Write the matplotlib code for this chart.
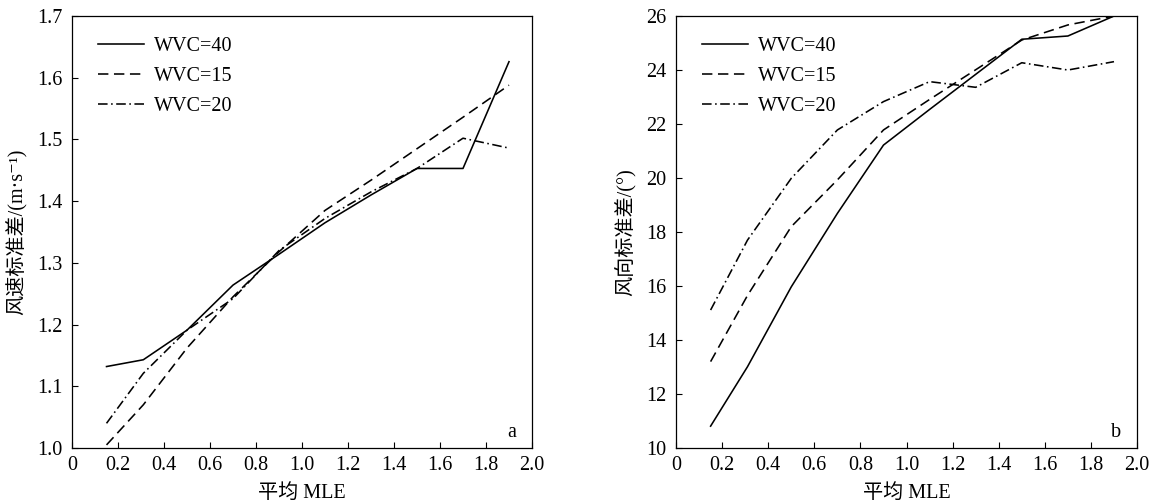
import matplotlib
matplotlib.use("Agg")
import matplotlib.pyplot as plt

plt.rcParams["font.family"] = ["Liberation Serif", "Noto Sans CJK SC", "DejaVu Serif"]
plt.rcParams["font.size"] = 14.5
plt.rcParams["axes.linewidth"] = 0.9

# mean MLE values shared by both panels
mle = [0.15, 0.31, 0.5, 0.7, 0.9, 1.1, 1.3, 1.5, 1.7, 1.9]

# wind speed standard deviation (m/s)
speed_wvc40 = [1.132, 1.143, 1.191, 1.264, 1.314, 1.365, 1.410, 1.453, 1.453, 1.626]
speed_wvc15 = [1.005, 1.070, 1.162, 1.245, 1.318, 1.385, 1.434, 1.485, 1.536, 1.588]
speed_wvc20 = [1.040, 1.121, 1.191, 1.242, 1.320, 1.372, 1.415, 1.453, 1.502, 1.486]

# wind direction standard deviation (deg)
dir_wvc40 = [10.81, 13.01, 15.97, 18.69, 21.22, 22.54, 23.84, 25.14, 25.26, 26.0]
dir_wvc15 = [13.20, 15.65, 18.20, 19.93, 21.78, 22.91, 24.01, 25.11, 25.67, 26.0]
dir_wvc20 = [15.11, 17.70, 19.99, 21.78, 22.83, 23.57, 23.36, 24.27, 24.00, 24.31]

labels = ["WVC=40", "WVC=15", "WVC=20"]
styles = ["-", (0, (6.5, 3.5)), (0, (6, 2.2, 1, 2.2))]

fig = plt.figure(figsize=(11.56, 5.04), dpi=100)
ax1 = fig.add_axes([0.0623, 0.1111, 0.3979, 0.8571])
ax2 = fig.add_axes([0.5848, 0.1111, 0.3988, 0.8571])


def draw(ax, series, ylim, yticks, ylabel, tag):
    for ys, ls, lab in zip(series, styles, labels):
        ax.plot(mle, ys, color="black", linestyle=ls, linewidth=1.15, label=lab)
    ax.set_xlim(0, 2.0)
    ax.set_ylim(*ylim)
    ax.set_xticks([0, 0.2, 0.4, 0.6, 0.8, 1.0, 1.2, 1.4, 1.6, 1.8, 2.0])
    ax.set_xticklabels(["0", "0.2", "0.4", "0.6", "0.8", "1.0", "1.2", "1.4", "1.6", "1.8", "2.0"])
    ax.set_yticks(yticks)
    ax.tick_params(direction="in", length=4.5, width=0.8, top=False, right=False)
    ax.tick_params(axis="x", pad=6)
    ax.tick_params(axis="y", pad=7)
    ax.set_xlabel("平均 MLE", labelpad=6)
    ax.set_ylabel(ylabel, labelpad=7)
    ax.text(0.955, 0.015, tag, transform=ax.transAxes, ha="center", va="bottom")
    leg = ax.legend(loc="upper left", bbox_to_anchor=(0.025, 0.985), frameon=False,
                    handlelength=2.3, handletextpad=0.5, labelspacing=0.55, borderaxespad=0.3)
    for line in leg.get_lines():
        line.set_linewidth(1.15)


draw(ax1, [speed_wvc40, speed_wvc15, speed_wvc20], (1.0, 1.7),
     [1.0, 1.1, 1.2, 1.3, 1.4, 1.5, 1.6, 1.7], "风速标准差/(m·s⁻¹)", "a")
ax1.set_yticklabels(["1.0", "1.1", "1.2", "1.3", "1.4", "1.5", "1.6", "1.7"])
draw(ax2, [dir_wvc40, dir_wvc15, dir_wvc20], (10, 26),
     [10, 12, 14, 16, 18, 20, 22, 24, 26], "风向标准差/(°)", "b")

fig.savefig("out.png", dpi=100)
